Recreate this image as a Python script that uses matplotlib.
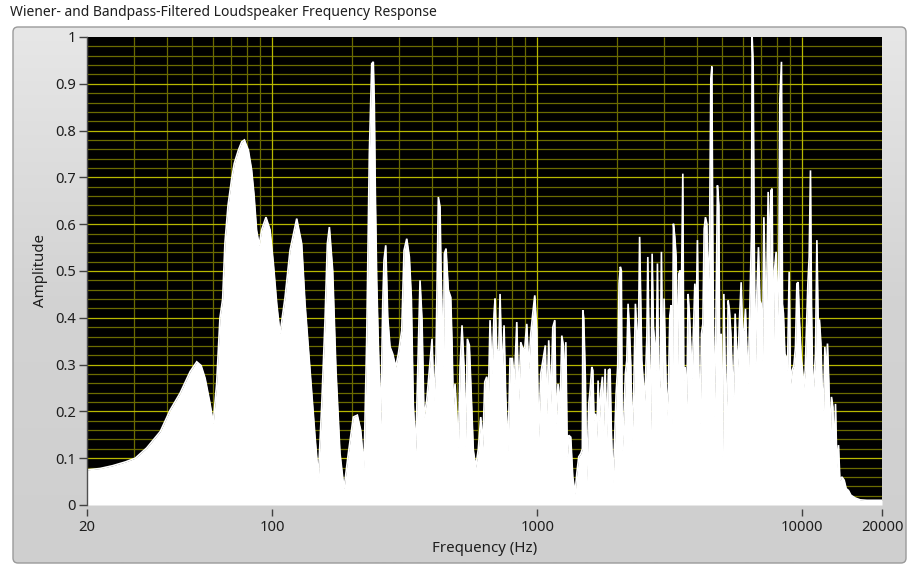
import numpy as np
import matplotlib
matplotlib.use("Agg")
import matplotlib.pyplot as plt
from matplotlib.patches import FancyBboxPatch
from matplotlib.colors import LinearSegmentedColormap
from matplotlib.ticker import NullLocator

# Filtered loudspeaker magnitude response (frequency in Hz, normalised amplitude)
freq_hz = [
    20.0, 22.4, 25.0, 27.9, 30.4, 33.6, 37.8, 41.2, 44.9, 49.0, 51.9, 53.9, 55.8, 58.2, 59.9,
    61.7, 63.5, 65.0, 66.3, 68.1, 70.3, 71.9, 74.5, 76.7, 78.5, 81.3, 83.6, 85.3, 87.3, 89.3,
    91.2, 94.7, 98.1, 101.0, 104.0, 107.0, 111.8, 116.7, 123.7, 129.2, 133.0, 138.9, 145.1,
    149.3, 153.8, 158.2, 161.4, 164.3, 169.1, 174.0, 180.2, 186.6, 193.7, 202.3, 209.5, 215.7,
    222.0, 227.3, 232.5, 237.4, 240.7, 242.8, 244.9, 247.9, 251.4, 256.7, 261.2, 264.1, 268.1,
    272.8, 278.3, 284.9, 292.4, 299.1, 308.1, 314.3, 321.8, 329.2, 334.9, 340.7, 347.9, 354.0,
    361.2, 367.5, 374.0, 382.9, 391.6, 400.9, 407.9, 415.1, 423.5, 429.8, 433.5, 442.3, 446.2,
    452.8, 461.9, 471.7, 477.0, 482.4, 489.6, 496.9, 503.9, 511.4, 520.3, 529.5, 535.5, 544.9,
    554.5, 564.2, 574.0, 586.1, 599.5, 612.2, 623.0, 633.9, 645.0, 654.0, 663.7, 675.3, 687.2,
    693.2, 703.5, 715.8, 724.0, 736.7, 749.6, 760.8, 776.1, 789.7, 805.7, 819.8, 837.1, 851.7,
    866.7, 881.9, 897.3, 913.1, 929.0, 945.3, 961.9, 978.8, 996.0, 1013, 1031, 1055, 1073,
    1086, 1105, 1125, 1145, 1165, 1178, 1198, 1220, 1238, 1255, 1270, 1282, 1299, 1315, 1338,
    1362, 1389, 1410, 1434, 1460, 1480, 1486, 1498, 1520, 1538, 1565, 1583, 1607, 1621, 1639,
    1658, 1678, 1697, 1716, 1738, 1762, 1777, 1804, 1831, 1856, 1883, 1904, 1933, 1955, 1984,
    2013, 2036, 2059, 2077, 2095, 2121, 2151, 2177, 2202, 2227, 2255, 2280, 2314, 2347, 2375,
    2409, 2434, 2481, 2516, 2547, 2592, 2614, 2644, 2683, 2714, 2745, 2778, 2810, 2842, 2876,
    2909, 2942, 2978, 3012, 3046, 3084, 3127, 3165, 3201, 3229, 3265, 3305, 3343, 3381, 3422,
    3461, 3500, 3543, 3574, 3615, 3669, 3710, 3752, 3799, 3842, 3886, 3933, 3978, 4023, 4072,
    4119, 4166, 4217, 4265, 4313, 4366, 4415, 4466, 4520, 4560, 4600, 4652, 4721, 4787, 4846,
    4888, 4944, 5000, 5061, 5132, 5195, 5253, 5314, 5379, 5440, 5502, 5583, 5647, 5716, 5796,
    5882, 5949, 6037, 6106, 6181, 6250, 6361, 6434, 6472, 6529, 6586, 6661, 6743, 6837, 6921,
    6998, 7078, 7165, 7246, 7329, 7437, 7522, 7614, 7700, 7768, 7856, 7973, 8064, 8162, 8234,
    8350, 8423, 8496, 8600, 8698, 8797, 8927, 9028, 9163, 9299, 9430, 9545, 9653, 9763, 9908,
    10021, 10144, 10259, 10376, 10503, 10622, 10743, 10837, 10970, 11094, 11221, 11358, 11485,
    11617, 11759, 11893, 12028, 12175, 12313, 12454, 12606, 12750, 12895, 13053, 13201, 13352,
    13515, 13704, 13872, 14114, 14399, 14651, 14947, 15263, 15844, 16548, 17541, 20000,
]
amplitude = [
    0.075, 0.078, 0.084, 0.092, 0.100, 0.122, 0.157, 0.203, 0.239, 0.285, 0.306, 0.298, 0.271, 0.218, 0.175,
    0.260, 0.400, 0.440, 0.560, 0.640, 0.697, 0.730, 0.758, 0.776, 0.780, 0.758, 0.716, 0.665, 0.587, 0.555,
    0.588, 0.615, 0.588, 0.516, 0.430, 0.366, 0.444, 0.544, 0.612, 0.558, 0.430, 0.288, 0.145,
    0.060, 0.216, 0.395, 0.558, 0.594, 0.501, 0.288, 0.110, 0.035, 0.110, 0.188, 0.192, 0.160,
    0.081, 0.359, 0.750, 0.943, 0.947, 0.857, 0.672, 0.480, 0.345, 0.174, 0.430, 0.523, 0.555,
    0.402, 0.338, 0.323, 0.295, 0.323, 0.373, 0.544, 0.569, 0.530, 0.444, 0.216, 0.117, 0.288,
    0.480, 0.395, 0.188, 0.224, 0.288, 0.355, 0.224, 0.323, 0.658, 0.637, 0.501, 0.295, 0.537,
    0.548, 0.459, 0.444, 0.345, 0.209, 0.259, 0.192, 0.124, 0.295, 0.384, 0.295, 0.124, 0.355,
    0.341, 0.231, 0.117, 0.081, 0.120, 0.188, 0.124, 0.263, 0.274, 0.227, 0.395, 0.281, 0.409,
    0.441, 0.331, 0.331, 0.451, 0.274, 0.384, 0.231, 0.117, 0.313, 0.313, 0.259, 0.391, 0.224,
    0.348, 0.334, 0.336, 0.387, 0.291, 0.366, 0.409, 0.448, 0.373, 0.145, 0.281, 0.316, 0.341,
    0.195, 0.352, 0.216, 0.380, 0.395, 0.174, 0.259, 0.209, 0.362, 0.341, 0.238, 0.348, 0.103, 0.149, 0.145,
    0.060, 0.024, 0.067, 0.103, 0.110, 0.120, 0.416, 0.400, 0.266, 0.053, 0.216, 0.245, 0.295, 0.288, 0.181,
    0.195, 0.145, 0.266, 0.181, 0.245, 0.274, 0.160, 0.291, 0.145, 0.288, 0.291, 0.160, 0.049, 0.124, 0.238,
    0.298, 0.473, 0.509, 0.501, 0.117, 0.181, 0.281, 0.309, 0.430, 0.380, 0.298, 0.138, 0.252, 0.430, 0.373,
    0.359, 0.573, 0.309, 0.259, 0.224, 0.359, 0.530, 0.338, 0.160, 0.537, 0.380, 0.345, 0.288, 0.516, 0.231,
    0.266, 0.541, 0.259, 0.441, 0.323, 0.192, 0.252, 0.405, 0.427, 0.174, 0.601, 0.573, 0.530, 0.288, 0.494,
    0.501, 0.451, 0.708, 0.266, 0.295, 0.216, 0.451, 0.409, 0.338, 0.270, 0.373, 0.473, 0.395, 0.566, 0.295,
    0.174, 0.366, 0.387, 0.590, 0.615, 0.601, 0.459, 0.544, 0.911, 0.937, 0.544, 0.188, 0.380, 0.683, 0.640,
    0.231, 0.366, 0.103, 0.451, 0.259, 0.213, 0.437, 0.416, 0.366, 0.288, 0.231, 0.409, 0.338, 0.295, 0.395,
    0.476, 0.377, 0.373, 0.419, 0.331, 0.259, 0.459, 0.580, 1.000, 0.943, 0.573, 0.302, 0.451, 0.551, 0.437,
    0.430, 0.309, 0.615, 0.473, 0.430, 0.669, 0.516, 0.672, 0.676, 0.302, 0.501, 0.541, 0.402, 0.509, 0.868,
    0.947, 0.430, 0.409, 0.323, 0.316, 0.288, 0.498, 0.259, 0.288, 0.298, 0.338, 0.473, 0.476, 0.395, 0.316,
    0.288, 0.252, 0.288, 0.380, 0.473, 0.530, 0.715, 0.430, 0.231, 0.274, 0.323, 0.566, 0.395,
    0.395, 0.345, 0.252, 0.202, 0.338, 0.274, 0.345, 0.259, 0.138, 0.231, 0.209, 0.103, 0.216,
    0.081, 0.128, 0.053, 0.060, 0.053, 0.035, 0.031, 0.021, 0.015, 0.011, 0.010, 0.010,
]

title = "Wiener- and Bandpass-Filtered Loudspeaker Frequency Response"
x_label = "Frequency (Hz)"
y_label = "Amplitude"
x_ticks = [20, 100, 1000, 10000, 20000]
x_tick_labels = ["20", "100", "1000", "10000", "20000"]
y_ticks = [0, 0.1, 0.2, 0.3, 0.4, 0.5, 0.6, 0.7, 0.8, 0.9, 1.0]
y_tick_labels = ["0", "0.1", "0.2", "0.3", "0.4", "0.5", "0.6", "0.7", "0.8", "0.9", "1"]

FONT = "Noto Sans"
TEXT = "#1e1e1e"
W, H = 908, 566

fig = plt.figure(figsize=(W / 100, H / 100), dpi=100)
fig.patch.set_facecolor("white")

# Grey graph frame with a soft vertical shade
bg = fig.add_axes([0, 0, 1, 1], zorder=0)
bg.set_xlim(0, W)
bg.set_ylim(H, 0)
bg.axis("off")
frame = FancyBboxPatch((13, 27), 893, 536, boxstyle="round,pad=0,rounding_size=5",
                       fc="none", ec="#9a9a9a", lw=1.0)
shade = LinearSegmentedColormap.from_list("frame", ["#e7e7e7", "#d3d3d3", "#cfcfcf"])
img = bg.imshow(np.linspace(0, 1, 256).reshape(-1, 1), cmap=shade, origin="upper",
                extent=(13, 906, 563, 27), aspect="auto", interpolation="bilinear")
bg.add_patch(frame)
img.set_clip_path(frame)

fig.text(10 / W, 1 - 12 / H, title, ha="left", va="center", fontsize=10,
         family=FONT, color=TEXT)

# Plot area
ax = fig.add_axes([87 / W, 1 - 505 / H, (882 - 87) / W, (505 - 37) / H], zorder=1)
ax.set_facecolor("black")
ax.set_xscale("log")
ax.set_xlim(20, 20000)
ax.set_ylim(0, 1)

minor_x = [m * 10 ** e for e in (1, 2, 3, 4) for m in range(2, 10) if 20 < m * 10 ** e < 20000]
major_x = [100, 1000, 10000]
minor_y = [i / 50 for i in range(1, 50) if i % 5]
major_y = [i / 10 for i in range(1, 10)]
for coll in (
    ax.vlines(minor_x, 0, 1, colors="#6b6b00", lw=0.9, zorder=1),
    ax.hlines(minor_y, 20, 20000, colors="#6b6b00", lw=0.9, zorder=1),
    ax.vlines(major_x, 0, 1, colors="#b8b800", lw=0.9, zorder=1.1),
    ax.hlines(major_y, 20, 20000, colors="#b8b800", lw=0.9, zorder=1.1),
):
    coll.set_snap(True)

ax.fill_between(freq_hz, amplitude, 0, color="white", lw=0, zorder=2)
ax.plot(freq_hz, amplitude, color="white", lw=1.2, zorder=2.1, solid_joinstyle="miter")

for side in ("right", "top"):
    ax.spines[side].set_visible(False)
ax.spines["left"].set_color("#505050")
ax.spines["left"].set_linewidth(1.0)
ax.spines["bottom"].set_visible(False)
ax.spines["bottom"].set_position(("outward", 3))

ax.set_xticks(x_ticks, x_tick_labels)
ax.xaxis.set_minor_locator(NullLocator())
ax.set_yticks(y_ticks, y_tick_labels)
ax.tick_params(axis="both", colors="#404040", labelcolor=TEXT, labelsize=10.6, width=1.0)
ax.tick_params(axis="y", length=6, pad=2)
ax.tick_params(axis="x", length=5, pad=3)
for lab in ax.get_xticklabels() + ax.get_yticklabels():
    lab.set_family(FONT)

fig.text(484.5 / W, 1 - 548 / H, x_label, ha="center", va="center", fontsize=10.8,
         family=FONT, color=TEXT)
fig.text(41 / W, 1 - 270 / H, y_label, ha="center", va="center", rotation=90,
         fontsize=10.8, family=FONT, color=TEXT)

fig.savefig("out.png", dpi=100)
